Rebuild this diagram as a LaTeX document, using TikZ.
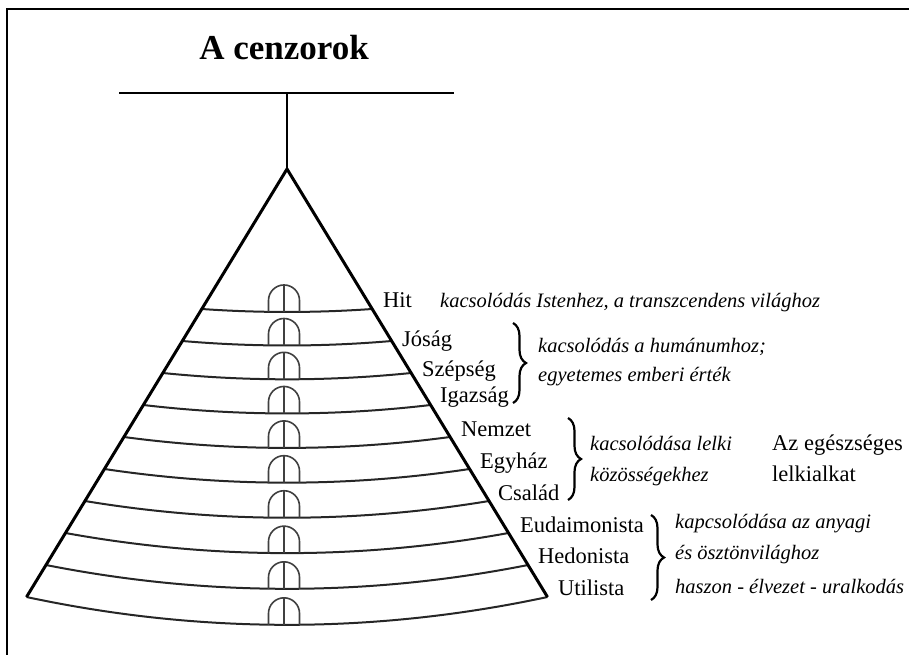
\documentclass[tikz,border=0pt]{standalone}
\usepackage{fontspec}
\setmainfont{Liberation Serif}
\usetikzlibrary{calc,decorations.pathreplacing}
\tikzset{/cenz/lvl/.style={anchor=base west, inner sep=0pt, font=\fontsize{22.5}{27}\selectfont
}}
\tikzset{/cenz/note/.style={anchor=base west, inner sep=0pt, font=\fontsize{20.5}{25}\selectfont\itshape
}}
\tikzset{/cenz/brace/.style={decorate, decoration={brace, amplitude=13pt}, line width=2.2pt
}}
\tikzset{/cenz/door/.style={line width=1.6pt, draw=black!75
}}
\begin{document}
\begin{tikzpicture}[x=1pt, y=-1pt]
		\useasboundingbox (0,0) rectangle (909,654);
		\draw[line width=1.5pt] (7,670) |- (925,9);
		\node[anchor=base, inner sep=0pt, font=\fontsize{35}{40}\selectfont\bfseries] (title) at (284,59) {A cenzorok};
		\coordinate (tl) at (119,93);
		\coordinate (tr) at (454,93);
		\coordinate (top) at (287,93);
		\coordinate (apex) at (287,169);
		\coordinate (bl) at (26.5,597);
		\coordinate (br) at (547.5,597);
		\draw[line width=2.5pt] (tl) -- (tr);
		\draw[line width=2.5pt] (top) -- (apex);
		\foreach \i in {0,...,9}{
			\pgfmathsetmacro{\ey}{309+32*\i}
			\pgfmathsetmacro{\hw}{0.6093*(\ey-169.5)}
			\pgfmathsetmacro{\sg}{(\hw/49.4)*(\hw/49.4)}
			\pgfmathsetmacro{\cy}{\ey+\sg}
			\draw[line width=2pt, black!85] (287-\hw,\ey) .. controls (287-\hw/3,\ey+4*\sg/3) and (287+\hw/3,\ey+4*\sg/3) .. (287+\hw,\ey);
			\draw[/cenz/door] (268.5,\cy) -- ++(0,-11.5) arc[start angle=180, end angle=360, radius=15.5] -- (299.5,\cy) (284,\cy) -- ++(0,-27);
		}
		\draw[line width=3pt] (bl) -- (apex) -- (br);
		\node[/cenz/lvl] (hit) at (383,307) {Hit};
		\node[/cenz/note] (hitn) at (440,307) {kacsolódás Istenhez, a transzcendens világhoz};
		\node[/cenz/lvl] (josag) at (402,346) {Jóság};
		\node[/cenz/lvl] (szep) at (422,376) {Szépség};
		\node[/cenz/lvl] (igaz) at (440,402) {Igazság};
		\node[/cenz/note] (hum1) at (538,352) {kacsolódás a humánumhoz;};
		\node[/cenz/note] (hum2) at (538,381) {egyetemes emberi érték};
		\node[/cenz/lvl] (nemzet) at (461,436) {Nemzet};
		\node[/cenz/lvl] (egyhaz) at (480,468) {Egyház};
		\node[/cenz/lvl] (csalad) at (498,500) {Család};
		\node[/cenz/note] (lelk1) at (590,450) {kacsolódása lelki};
		\node[/cenz/note] (lelk2) at (590,481) {közösségekhez};
		\node[/cenz/lvl] (eg1) at (772,450) {Az egészséges};
		\node[/cenz/lvl] (eg2) at (772,481) {lelkialkat};
		\node[/cenz/lvl] (eud) at (520,532) {Eudaimonista};
		\node[/cenz/lvl] (hed) at (538,563) {Hedonista};
		\node[/cenz/lvl] (util) at (558,595) {Utilista};
		\node[/cenz/note] (any1) at (675,528) {kapcsolódása az anyagi};
		\node[/cenz/note] (any2) at (675,559) {és ösztönvilághoz};
		\node[/cenz/note] (any3) at (675,593) {haszon - élvezet - uralkodás};
		\coordinate (b1t) at (513,323);
		\coordinate (b1b) at (513,403);
		\coordinate (b2t) at (568,418);
		\coordinate (b2b) at (568,500);
		\coordinate (b3t) at (651,515);
		\coordinate (b3b) at (651,600);
		\draw[/cenz/brace] (b1t) -- (b1b);
		\draw[/cenz/brace] (b2t) -- (b2b);
		\draw[/cenz/brace] (b3t) -- (b3b);
	\end{tikzpicture}
\end{document}
